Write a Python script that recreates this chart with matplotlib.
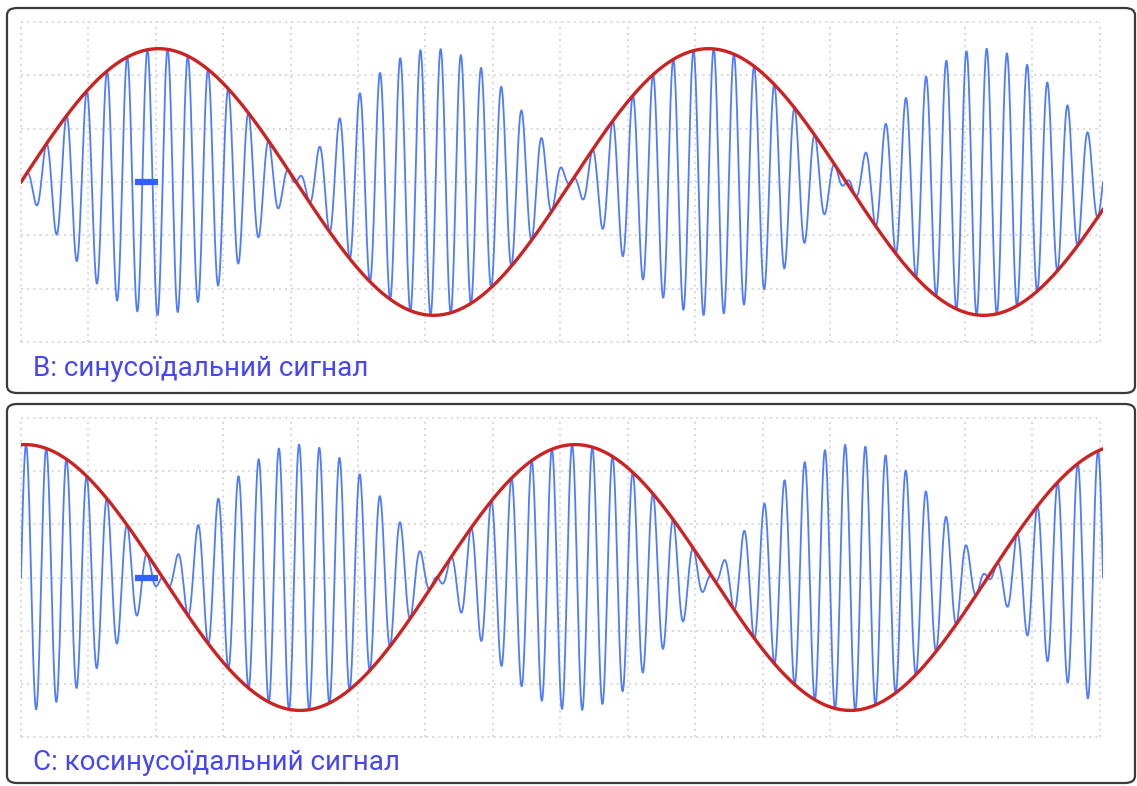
import numpy as np
import matplotlib.pyplot as plt
from matplotlib.patches import FancyBboxPatch

# signal parameters (x in grid divisions, y in grid units)
T_END = 16.05          # visible time span
ENV_AMP = 2.5          # envelope amplitude
ENV_PERIOD = 8.16      # envelope period
CARRIER_PERIOD = 0.30  # carrier period
ENV_SHIFT = [0.0, 0.06]  # small delay of the envelope in each panel
MARKER_X = [1.69, 2.03]

panels = ['B: синусоїдальний сигнал', 'C: косинусоїдальний сигнал']
env_funcs = [np.sin, np.cos]

W, H = 1137, 786
fig = plt.figure(figsize=(W / 100, H / 100), dpi=100)
plt.rcParams['font.family'] = ['Roboto', 'DejaVu Sans']

t = np.linspace(0, T_END, 6000)
carrier = np.sin(2 * np.pi * t / CARRIER_PERIOD)

# pixel layout: box (top, bottom), plot area (top, bottom), label y
layout = [((8, 393), (22, 342), 368), ((404, 783), (418, 737), 763)]
x0, x1 = 21, 1103

for name, f, shift, (box, area, ly) in zip(panels, env_funcs, ENV_SHIFT, layout):
    # rounded frame
    fig.patches.append(FancyBboxPatch(
        (7 / W, 1 - box[1] / H), (1135 - 7) / W, (box[1] - box[0]) / H,
        boxstyle='round,pad=0,rounding_size=0.009', transform=fig.transFigure,
        fc='white', ec='#3a3a3a', lw=1.6, zorder=0))

    ax = fig.add_axes([x0 / W, 1 - area[1] / H, (x1 - x0) / W, (area[1] - area[0]) / H])
    ax.set_zorder(3)
    ax.set_facecolor('none')
    env = ENV_AMP * f(2 * np.pi * (t - shift) / ENV_PERIOD)
    ax.plot(t, env * carrier, color='#4f7bff', lw=1.3, zorder=3)
    ax.plot(t, env, color='#cc2222', lw=2.4, zorder=4)
    ax.plot(MARKER_X, [0, 0], color='#3060ff', lw=4.5, solid_capstyle='butt', zorder=5)

    ax.set_xlim(0, T_END)
    ax.set_ylim(-3, 3)
    for gx in range(0, 17):
        ax.axvline(gx, color='#d8d8d8', lw=1.3, ls=(0, (1.2, 2.2)), zorder=1, clip_on=False)
    for gy in range(-3, 4):
        ax.plot([0, 16], [gy, gy], color='#d8d8d8', lw=1.3, ls=(0, (1.2, 2.2)), zorder=1, clip_on=False)
    for s in ax.spines.values():
        s.set_visible(False)
    ax.set_xticks([])
    ax.set_yticks([])

    fig.text(33 / W, 1 - ly / H, name, color='#4646f5', fontsize=20, va='center', ha='left',
             zorder=4)

fig.savefig('out.png', dpi=100)
